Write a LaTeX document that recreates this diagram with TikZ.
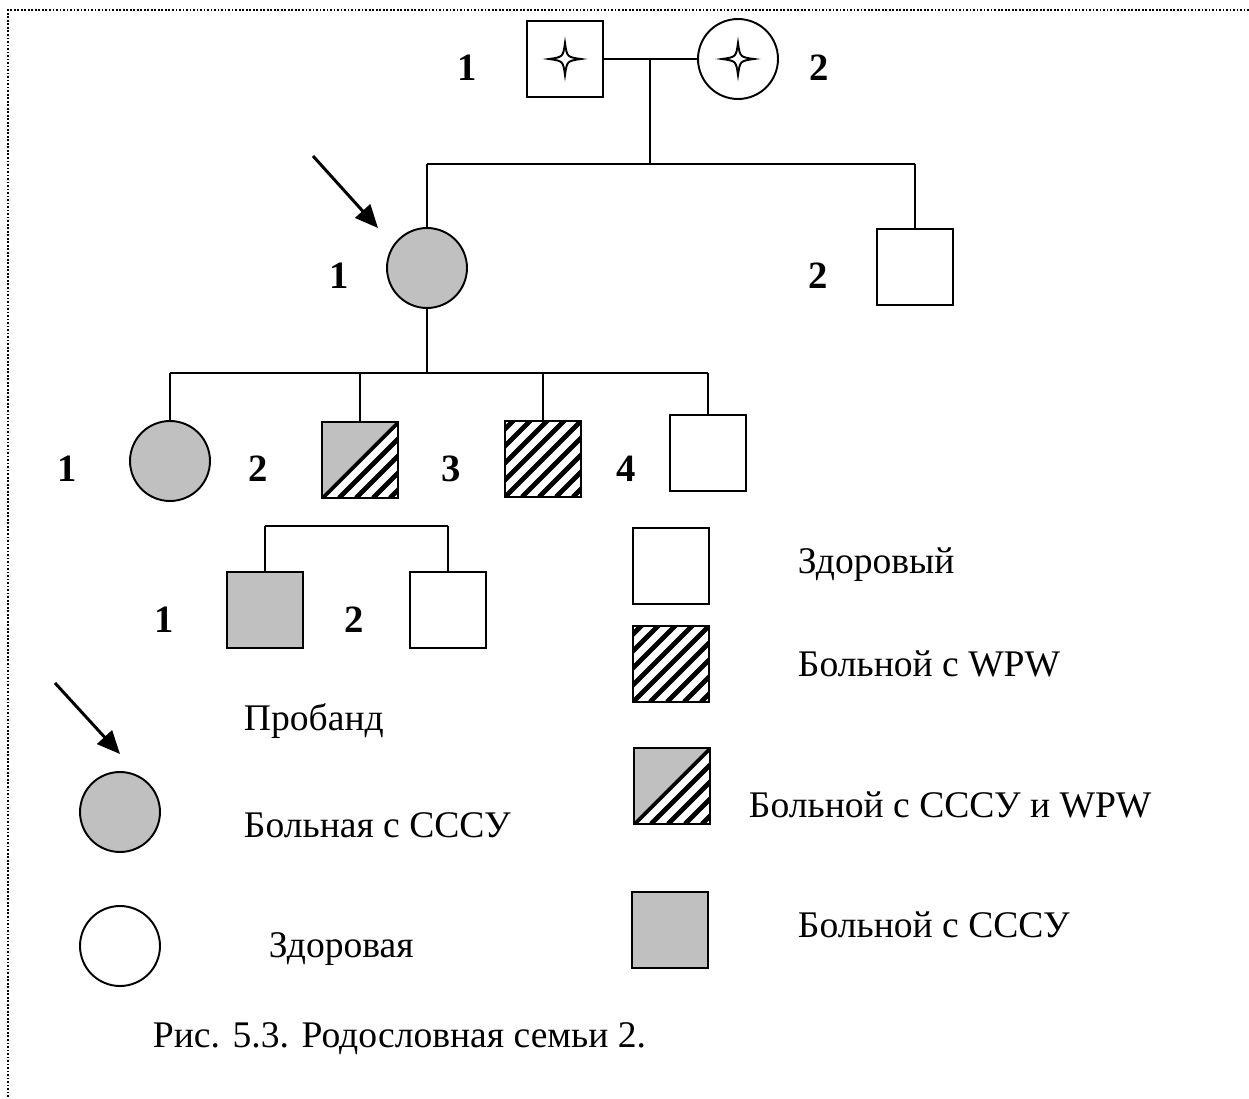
\documentclass[tikz,border=0pt]{standalone}
\usepackage{fontspec}
\setmainfont{Liberation Serif}
\usetikzlibrary{arrows.meta}
\definecolor{fillg}{RGB}{192,192,192}
\tikzset{
  star4/.pic={\draw[line width=1.1pt] (0,16) .. controls (2,2) .. (16,0) .. controls (2,-2) .. (0,-16) .. controls (-2,-2) .. (-16,0) .. controls (-2,2) .. (0,16) -- cycle;},
}
\begin{document}
\begin{tikzpicture}[x=0.02cm,y=-0.02cm, line width=1.1pt,
  every node/.style={font=\fontsize{21.4}{25}\selectfont},
  sq/.style={draw, rectangle, minimum size=1.52cm, inner sep=0pt, line width=1.1pt},
  ci/.style={draw, circle, minimum size=1.6cm, inner sep=0pt, line width=1.1pt},
  gfill/.style={fill=fillg},
  hatched/.style={path picture={
     \foreach \t in {-1.70,-1.36,...,1.70}
       \draw[line width=2.8pt] ([xshift=\t cm]path picture bounding box.south west) -- ++(45:3cm);}},
  halfhatch/.style={path picture={
     \fill[fillg] (path picture bounding box.south west) -- (path picture bounding box.north west) -- (path picture bounding box.north east) -- cycle;
     \begin{scope}
       \clip (path picture bounding box.south west) -- (path picture bounding box.south east) -- (path picture bounding box.north east) -- cycle;
       \foreach \t in {-1.70,-1.36,...,1.70}
         \draw[line width=2.8pt] ([xshift=\t cm]path picture bounding box.south west) -- ++(45:3cm);
     \end{scope}
     \draw[line width=1.6pt] (path picture bounding box.south west) -- (path picture bounding box.north east);}},
  num/.style={font=\fontsize{22}{25}\selectfont\bfseries, anchor=base, inner sep=0pt},
  txt/.style={anchor=base west, inner sep=0pt},
  arr/.style={line width=1.7pt, -{Triangle[length=0.46cm,width=0.4cm]}},
  conn/.style={line width=1.1pt}
]
\useasboundingbox (0,0) rectangle (1249,1099);
\draw[densely dotted, line width=1pt] (1249,10) -- (8,10) -- (8,1099);

% generation I
\node[sq] (f) at (565,59) {};
\node[ci] (m) at (738,59) {};
\pic at (f.center) {star4};
\pic at (m.center) {star4};
\node[num] (nf) at (467,80) {1};
\node[num] (nm) at (819,80) {2};
\coordinate (mar) at (650,59);
\coordinate (s1) at (650,164);
\coordinate (s1l) at (427,164);
\coordinate (s1r) at (915,164);
\draw[conn] (f) -- (m);
\draw[conn] (mar) -- (s1);
\draw[conn] (s1l) -- (s1r);

% generation II
\node[ci, gfill] (p) at (427,268) {};
\node[sq] (b) at (915,267) {};
\node[num] (np) at (339,288) {1};
\node[num] (nb) at (818,288) {2};
\draw[conn] (s1l) -- (p.north);
\draw[conn] (s1r) -- (b.north);
\coordinate (pa1) at (313,156);
\coordinate (pa2) at (378,228);
\draw[arr] (pa1) -- (pa2);

% generation III
\coordinate (s2) at (427,373);
\coordinate (s2l) at (170,373);
\coordinate (s2r) at (708,373);
\draw[conn] (p.south) -- (s2);
\draw[conn] (s2l) -- (s2r);
\node[ci, gfill] (c1) at (170,461) {};
\node[sq, halfhatch] (c2) at (360,460) {};
\node[sq, hatched] (c3) at (543,459) {};
\node[sq] (c4) at (708,453) {};
\draw[conn] (s2l) -- (c1.north);
\draw[conn] (c2.north |- s2l) -- (c2.north);
\draw[conn] (c3.north |- s2l) -- (c3.north);
\draw[conn] (s2r) -- (c4.north);
\node[num] (n31) at (67,481) {1};
\node[num] (n32) at (258,481) {2};
\node[num] (n33) at (451,481) {3};
\node[num] (n34) at (626,481) {4};

% generation IV
\coordinate (s3l) at (265,526);
\coordinate (s3r) at (448,526);
\draw[conn] (s3l) -- (s3r);
\node[sq, gfill] (d1) at (265,610) {};
\node[sq] (d2) at (448,610) {};
\draw[conn] (s3l) -- (d1.north);
\draw[conn] (s3r) -- (d2.north);
\node[num] (n41) at (164,632) {1};
\node[num] (n42) at (354,632) {2};

% legend right
\node[sq] (l1) at (671,566) {};
\node[txt] (t1) at (797,573) {Здоровый};
\node[sq, hatched] (l2) at (671,664) {};
\node[txt] (t2) at (797,676) {Больной с WPW};
\node[sq, halfhatch] (l3) at (672,786) {};
\node[txt] (t3) at (748,817) {Больной с СССУ и WPW};
\node[sq, gfill] (l4) at (670,930) {};
\node[txt] (t4) at (797,937) {Больной с СССУ};

% legend left
\coordinate (la1) at (55,683);
\coordinate (la2) at (120,754);
\draw[arr] (la1) -- (la2);
\node[txt] (t5) at (243,730) {Пробанд};
\node[ci, gfill] (lc1) at (120,812) {};
\node[txt] (t6) at (243,837) {Больная с СССУ};
\node[ci] (lc2) at (120,946) {};
\node[txt] (t7) at (268,957) {Здоровая};

\node[txt] (cap) at (152,1047) {Рис. 5.3. Родословная семьи 2.};
\end{tikzpicture}
\end{document}
